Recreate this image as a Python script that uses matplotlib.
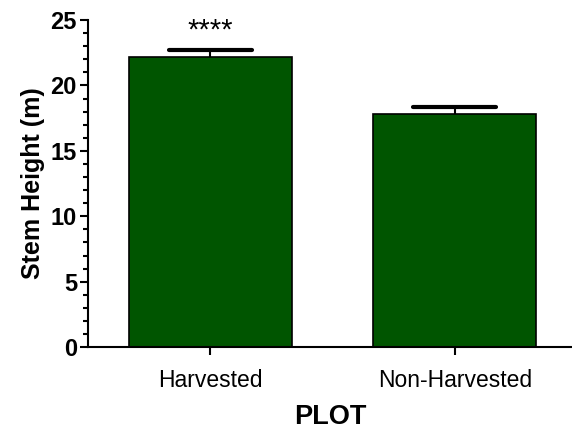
import matplotlib
matplotlib.use("Agg")
import matplotlib.pyplot as plt
from matplotlib.ticker import MultipleLocator

plt.rcParams['font.family'] = ['Liberation Sans', 'DejaVu Sans']

plots = ['Harvested', 'Non-Harvested']
height = [22.2, 17.8]
sem = [0.5, 0.55]
sig = ['****', '']

fig = plt.figure(figsize=(5.72, 4.34), dpi=100)
ax = fig.add_axes([0.154, 0.2, 0.846, 0.754])

x = list(range(len(plots)))
ax.bar(x, height, width=0.665, color='#005500', edgecolor='black', linewidth=1.2, zorder=2)

# upper error bar only (GraphPad style)
tops = [h + e for h, e in zip(height, sem)]
ax.vlines(x, height, tops, color='black', linewidth=1.5, zorder=3)
ax.hlines(tops, [i - 0.17 for i in x], [i + 0.17 for i in x],
          color='black', linewidth=3, capstyle='round', zorder=3)

for i, s in enumerate(sig):
    if s:
        ax.text(i, tops[i] + 0.45, s, ha='center', va='bottom', fontsize=21)

ax.set_xlim(-0.5, 1.48)
ax.set_ylim(0, 25)
ax.yaxis.set_major_locator(MultipleLocator(5))
ax.yaxis.set_minor_locator(MultipleLocator(1))
ax.set_xticks(x)
ax.set_xticklabels(plots, fontsize=16.5)
for lab in ax.get_yticklabels():
    lab.set_fontweight('bold')
    lab.set_fontsize(17)

ax.spines['top'].set_visible(False)
ax.spines['right'].set_visible(False)
ax.spines['left'].set_linewidth(1.5)
ax.spines['bottom'].set_linewidth(1.5)
ax.tick_params(axis='y', which='major', length=6, width=1.5, pad=2)
ax.tick_params(axis='y', which='minor', length=3.5, width=1.5)
ax.tick_params(axis='x', length=6, width=1.5, pad=10)

ax.set_ylabel('Stem Height (m)', fontsize=18, fontweight='bold', labelpad=4)
ax.set_xlabel('PLOT', fontsize=19.5, fontweight='bold', labelpad=8)

fig.savefig('out.png', dpi=100)
